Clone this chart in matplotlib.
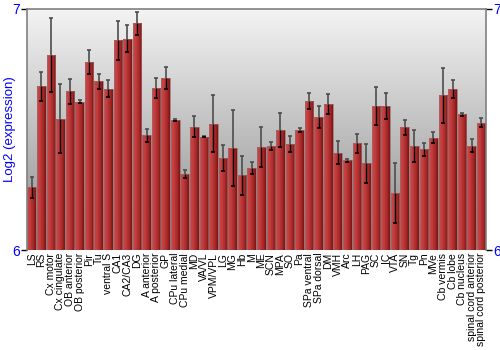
import numpy as np
import matplotlib
matplotlib.use("Agg")
import matplotlib.pyplot as plt
from matplotlib.colors import LinearSegmentedColormap

regions = ["LS", "RS", "Cx motor", "Cx cingulate", "OB anterior", "OB posterior",
           "Pir", "Tu", "ventral S", "CA1", "CA2/CA3", "DG", "A anterior",
           "A posterior", "GP", "CPu lateral", "CPu medial", "MD", "VA/VL",
           "VPM/VPL", "LG", "MG", "Hb", "M", "ME", "SCN", "MPA", "SO", "Pa",
           "SPa ventral", "SPa dorsal", "DM", "VMH", "Arc", "LH", "PAG", "SC",
           "IC", "VTA", "SN", "Tg", "Pn", "MVe", "Cb vermis", "Cb lobe",
           "Cb nucleus", "spinal cord anterior", "spinal cord posterior"]
expr = [6.260, 6.680, 6.809, 6.544, 6.658, 6.615, 6.780, 6.700, 6.669, 6.870,
        6.877, 6.941, 6.477, 6.671, 6.715, 6.539, 6.315, 6.512, 6.470, 6.524,
        6.382, 6.422, 6.311, 6.340, 6.427, 6.430, 6.498, 6.439, 6.499, 6.618,
        6.552, 6.606, 6.404, 6.373, 6.442, 6.360, 6.598, 6.598, 6.237, 6.510,
        6.432, 6.418, 6.466, 6.642, 6.668, 6.563, 6.433, 6.528]
err = [0.043, 0.060, 0.153, 0.143, 0.052, 0.006, 0.048, 0.031, 0.035, 0.081,
       0.055, 0.047, 0.027, 0.042, 0.045, 0.005, 0.018, 0.043, 0.003, 0.119,
       0.055, 0.158, 0.081, 0.026, 0.083, 0.017, 0.071, 0.032, 0.009, 0.035,
       0.046, 0.043, 0.048, 0.006, 0.040, 0.080, 0.078, 0.055, 0.125, 0.031,
       0.067, 0.028, 0.024, 0.113, 0.036, 0.006, 0.027, 0.018]
y_ticks = [6, 7]

fig = plt.figure(figsize=(5, 3.5), dpi=100)
ax = fig.add_axes([0.054, 0.2857, 0.918, 0.6886])
x = np.arange(len(regions))
expr = np.array(expr)
err = np.array(err)

ax.set_xlim(-0.5, len(regions) - 0.5)
ax.set_ylim(6, 7)

# background gradient
bg = LinearSegmentedColormap.from_list("bg", ["#8c8c8c", "#f4f4f4"])
ax.imshow(np.linspace(0, 1, 256).reshape(-1, 1), cmap=bg, aspect="auto",
          extent=[-0.5, len(regions) - 0.5, 6, 7], origin="lower", zorder=0)

# bars with horizontal red gradient
red = LinearSegmentedColormap.from_list("red", ["#cc4a4a", "#c23c3c", "#aa2a2a", "#7c1414"])
grad = np.linspace(0, 1, 64).reshape(1, -1)
bars = ax.bar(x, expr - 6, bottom=6, width=0.9, color="none",
              edgecolor="#9a6a6a", linewidth=0.5, zorder=2)
for b in bars:
    im = ax.imshow(grad, cmap=red, aspect="auto", zorder=1,
                   extent=[b.get_x(), b.get_x() + b.get_width(), 6, 6 + b.get_height()])
    im.set_clip_path(b)

# error bars: upper part grey, lower part black
ax.vlines(x, expr, expr + err, color="#4d4d4d", linewidth=1.2, zorder=3)
ax.vlines(x, expr - err, expr, color="black", linewidth=1.0, zorder=3)
ax.plot(x, expr + err, ls="none", marker="_", ms=3.5, mew=1.2, color="#4d4d4d", zorder=3)
ax.plot(x, expr - err, ls="none", marker="_", ms=3.5, mew=1.2, color="black", zorder=3)

ax.set_xticks(x)
ax.set_xticklabels(regions, rotation=90, fontsize=7.5, family="Liberation Sans")
ax.tick_params(axis="x", length=0, pad=2)
ax.set_yticks(y_ticks)
ax.set_yticklabels([str(t) for t in y_ticks], color="blue", fontsize=10,
                   family="Liberation Sans")
ax.tick_params(axis="y", length=4, width=1, color="black", pad=1,
               right=True, labelright=True)
ax.set_ylabel("Log2 (expression)", color="blue", fontsize=9.5,
              family="Liberation Sans")
ax.yaxis.set_label_coords(-0.025, 0.5)

for s in ["left", "right", "top"]:
    ax.spines[s].set_color("#808080")
    ax.spines[s].set_linewidth(1.2)
ax.spines["bottom"].set_visible(False)

fig.savefig("out.png", dpi=100)
